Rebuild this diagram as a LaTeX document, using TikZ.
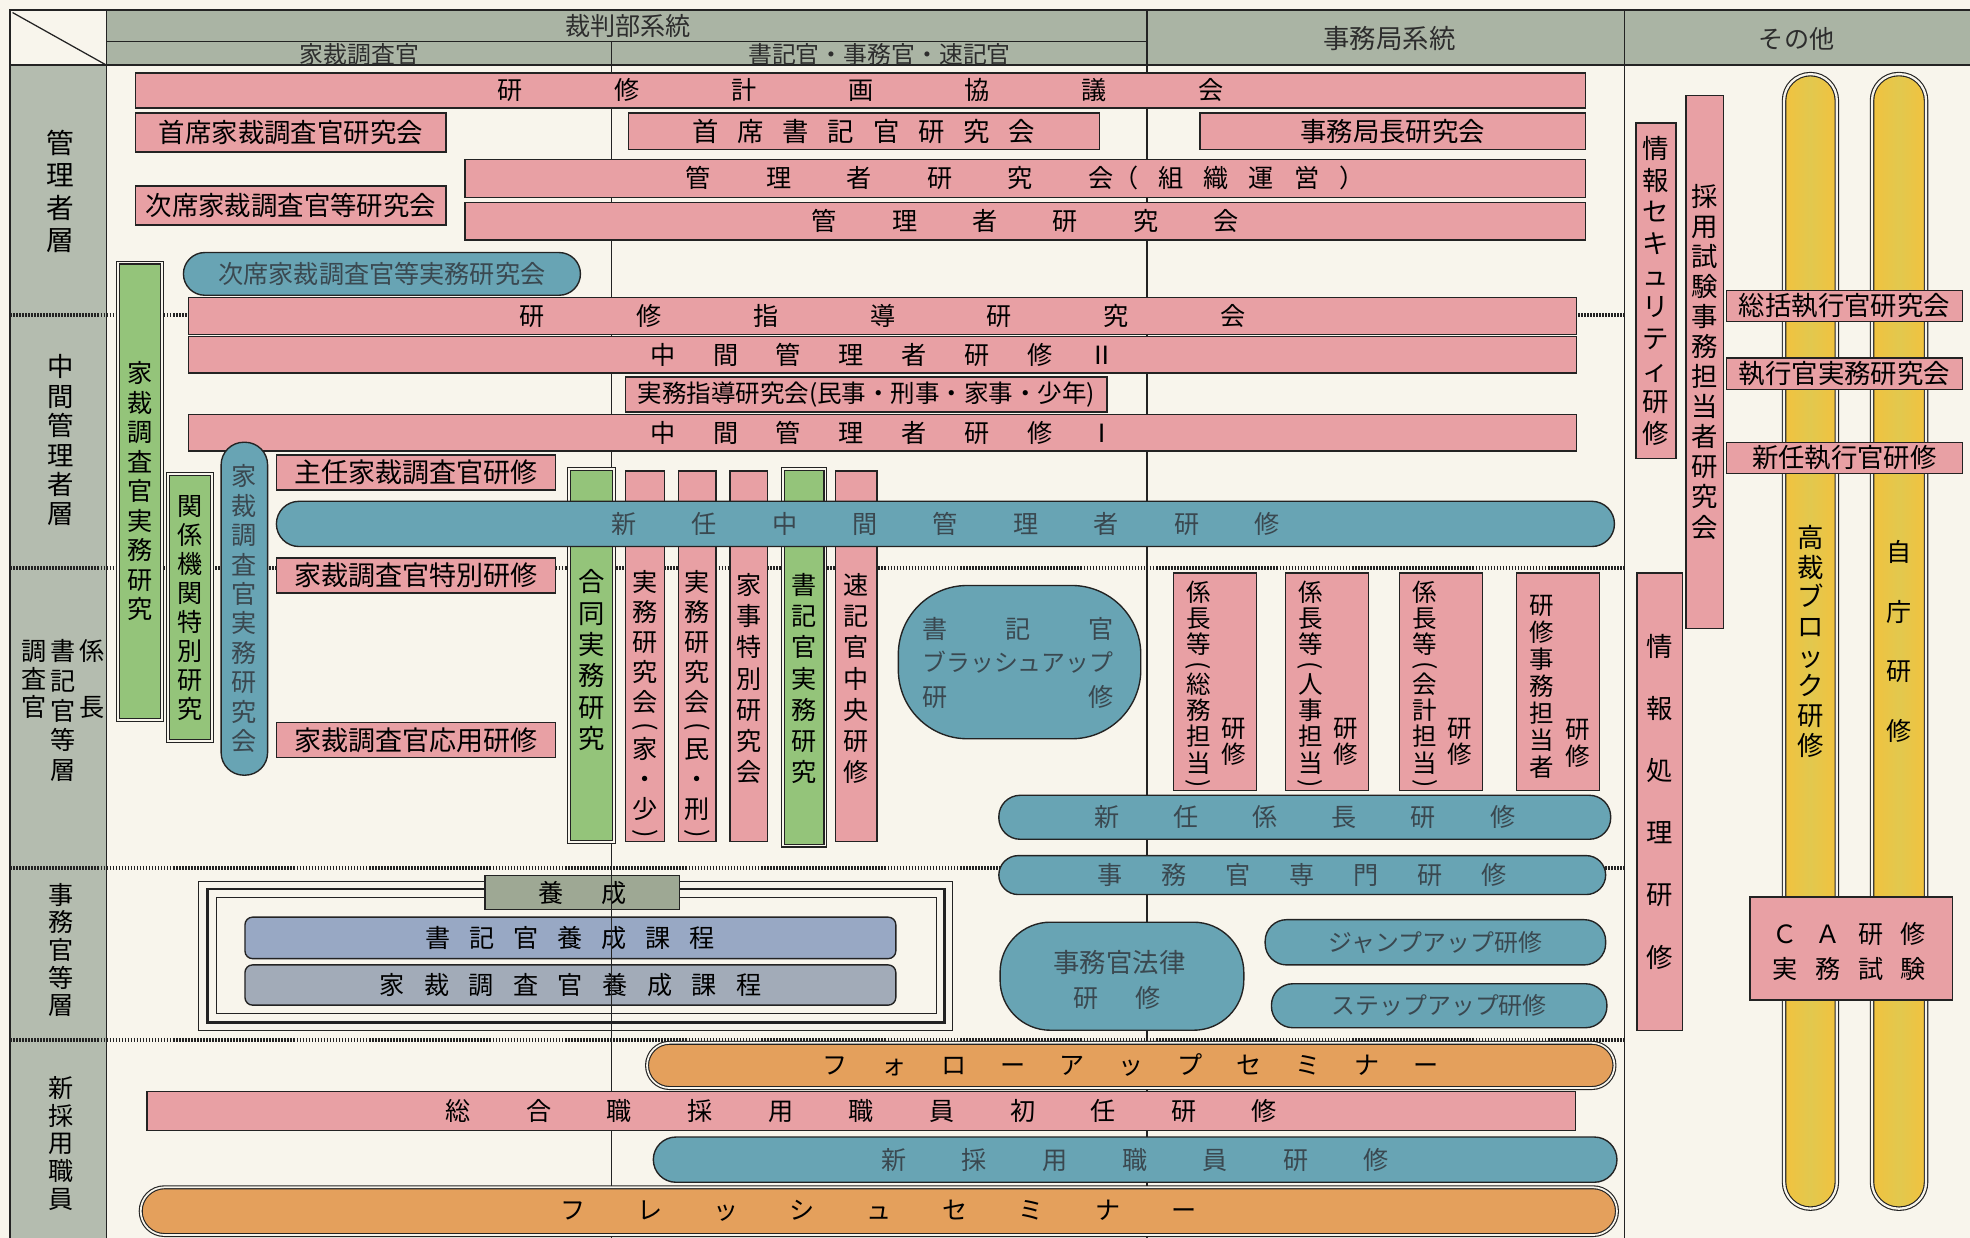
\documentclass[tikz,border=0pt]{standalone}
\usepackage{fontspec}
\setmainfont{Noto Sans CJK JP}
\usepackage{graphicx}
\makeatletter
\newcommand\FS[1]{\fontsize{#1}{#1}\selectfont}
\def\sp@loop#1#2{#1\ifx\relax#2\expandafter\@gobble\else\hskip\sp@gap\relax\expandafter\@firstofone\fi{\sp@loop{#2}}}
\newcommand\hsp[2]{\begingroup\def\sp@gap{#1}\sp@loop#2\relax\endgroup}
\def\vt@h{.88em}\def\vt@d{.12em}
\def\vt@loop#1#2{\hbox to 1em{\def\vt@h{.88em}\def\vt@d{.12em}\hss#1\hss\vrule height\vt@h depth\vt@d width\z@}\ifx\relax#2\expandafter\@gobble\else\vskip\vt@gap\relax\expandafter\@firstofone\fi{\vt@loop{#2}}}
\newcommand\vsp[2]{\vbox{\offinterlineskip\def\vt@gap{#1}\vt@loop#2\relax}}
\newcommand\vpo{\def\vt@h{.45em}\def\vt@d{\z@}\smash{\raisebox{-.13em}{\rotatebox[origin=c]{-90}{(}}}}
\newcommand\vpc{\def\vt@h{.45em}\def\vt@d{\z@}\smash{\raisebox{-.13em}{\rotatebox[origin=c]{-90}{)}}}}
\makeatother
\definecolor{bgc}{RGB}{248,245,236}
\definecolor{pinkc}{RGB}{232,160,164}
\definecolor{tealc}{RGB}{104,164,180}
\definecolor{greenc}{RGB}{148,196,122}
\definecolor{orangec}{RGB}{228,160,92}
\definecolor{yellowc}{RGB}{242,194,62}
\definecolor{yellowm}{RGB}{226,200,78}
\definecolor{bluec}{RGB}{152,168,196}
\definecolor{bluecb}{RGB}{162,171,184}
\definecolor{headc}{RGB}{170,180,164}
\definecolor{leftc}{RGB}{180,188,175}
\definecolor{yoseic}{RGB}{158,168,148}
\definecolor{tealtxt}{RGB}{58,72,80}
\definecolor{htxtc}{RGB}{45,45,45}
\definecolor{linec}{RGB}{35,35,35}
\newcommand\bx[7]{\node[#1, minimum width={#5-#3}, minimum height={#6-#4}] (#2) at ({(#3+#5)/2},{(#4+#6)/2}) {#7};}
\begin{document}
\begin{tikzpicture}[x=1pt,y=-1pt,
  base/.style={draw=linec, line width=1.1pt, inner sep=0pt, outer sep=0pt, text=black, font=\FS{20}},
  pinkbox/.style={base, fill=pinkc},
  tealpill/.style={base, fill=tealc, text=tealtxt, rounded corners=#1},
  tealpill/.default=17pt,
  greenbox/.style={base, fill=greenc, double=bgc, double distance=1.4pt, line width=0.9pt},
  orangepill/.style={base, fill=orangec, double=bgc, double distance=1.4pt, line width=0.9pt, rounded corners=#1},
  orangepill/.default=18pt,
  tube/.style={base, double=bgc, double distance=1.8pt, line width=0.9pt, rounded corners=21pt, left color=yellowc, right color=yellowc, middle color=yellowm},
  coursebox/.style={base, fill=#1, rounded corners=6pt},
  yoseibox/.style={base, fill=yoseic},
  txt/.style={inner sep=0pt, font=\FS{20}, text=black},
  ttxt/.style={txt, text=tealtxt},
  htxt/.style={txt, text=htxtc},
  dotline/.style={line width=3pt, dash pattern=on 1.3pt off 1.1pt, draw=linec},
  gridline/.style={line width=1pt, draw=linec},
]
\useasboundingbox (0,0) rectangle (1568,985);
\fill[bgc] (0,0) rectangle (1568,985);
% header and left column
\fill[headc] (85,8) rectangle (1575,52);
\fill[leftc] (8,52) rectangle (85,990);
\draw[gridline, line width=1.4pt] (8,990) -- (8,8) -- (1575,8);
\draw[gridline, line width=1.4pt] (8,52) -- (1575,52);
\draw[gridline] (85,8) -- (85,990);
\draw[gridline] (85,33) -- (913,33);
\draw[gridline] (487,33) -- (487,990);
\draw[gridline] (913,8) -- (913,990);
\draw[gridline] (1293,8) -- (1293,990);
\draw[gridline] (10,10) -- (85,52);
\node[htxt] (h-saiban) at (500,21) {裁判部系統};
\node[htxt,font=\FS{19}] (h-kasai) at (286,43) {家裁調査官};
\node[htxt,font=\FS{19}] (h-shoki) at (700,43) {書記官・事務官・速記官};
\node[htxt,font=\FS{21}] (h-jimu) at (1106,31) {事務局系統};
\node[htxt] (h-other) at (1430,31) {その他};
% dotted layer separators
\foreach \yy in {251,452,691,828} \draw[dotline] (8,\yy) -- (1293,\yy);
% layer labels
\node[txt,font=\FS{22}] (l-kanri) at (48,152.5) {\vsp{3.7pt}{管理者層}};
\node[txt,font=\FS{21}] (l-chukan) at (48,350.5) {\vsp{2.4pt}{中間管理者層}};
\node[txt] (l-kakari) at (73,540.5) {\vsp{25pt}{係長}};
\node[txt] (l-shoki) at (50,565.5) {\vsp{3.75pt}{書記官等層}};
\node[txt] (l-chosa) at (27,540.5) {\vsp{2.5pt}{調査官}};
\node[txt] (l-jimukan) at (49,756) {\vsp{2pt}{事務官等層}};
\node[txt] (l-shinsai) at (49,910) {\vsp{2pt}{新採用職員}};
% management layer
\bx{pinkbox}{kyogi}{108}{58}{1262}{86}{\hsp{73pt}{研修計画協議会}}
\bx{pinkbox,font=\FS{21}}{shuseki-kasai}{108}{90}{355}{121}{首席家裁調査官研究会}
\bx{pinkbox,font=\FS{21}}{shuseki-shoki}{500}{90}{875}{119}{\hsp{15pt}{首席書記官研究会}}
\bx{pinkbox,font=\FS{21}}{jimukyokucho}{955}{90}{1262}{119}{事務局長研究会}
\bx{pinkbox}{kanri-soshiki}{370}{127}{1262}{157}{\hsp{44pt}{管理者研究会}\hsp{16pt}{（組織運営）}}
\bx{pinkbox,font=\FS{21}}{jiseki}{108}{148}{355}{179}{次席家裁調査官等研究会}
\bx{pinkbox}{kanri}{370}{161}{1262}{191}{\hsp{44pt}{管理者研究会}}
\bx{tealpill=17pt}{jiseki-jitsumu}{146}{201}{462}{235}{次席家裁調査官等実務研究会}
% middle management
\bx{pinkbox}{shido}{150}{237}{1255}{266}{\hsp{73pt}{研修指導研究会}}
\bx{pinkbox}{chukan2}{150}{268}{1255}{297}{\hsp{30pt}{中間管理者研修Ⅱ}}
\bx{pinkbox,font=\FS{19.5}}{jitsumushido}{498}{300}{881}{328}{実務指導研究会(民事・刑事・家事・少年)}
\bx{pinkbox}{chukan1}{150}{330}{1255}{359}{\hsp{30pt}{中間管理者研修Ⅰ}}
\bx{pinkbox,font=\FS{21.5}}{shunin}{220}{362}{442}{390}{主任家裁調査官研修}
\bx{pinkbox,font=\FS{21.5}}{tokubetsu}{220}{444}{442}{472}{家裁調査官特別研修}
\bx{pinkbox,font=\FS{21.5}}{oyo}{220}{575}{442}{603}{家裁調査官応用研修}
\bx{greenbox}{kasai-jitsumu}{94}{209}{129}{573}{\vsp{3.5pt}{家裁調査官実務研究}}
\bx{greenbox}{kankei}{134}{377}{169}{590}{\vsp{3pt}{関係機関特別研究}}
\bx{tealpill=18pt}{kasai-kenkyukai}{176}{352}{213}{617}{\vsp{3.4pt}{家裁調査官実務研究会}}
% vertical column of research groups
\bx{greenbox}{godo}{453}{373}{489}{670}{}
\node[txt,font=\FS{21}] (godo-t) at (471,525.5) {\vsp{4pt}{合同実務研究}};
\bx{pinkbox}{jitsumu-ka}{498}{375}{529}{670}{}
\node[txt] (jitsumu-ka-t) at (513.5,560) {\vsp{4pt}{実務研究会{\vpo}家・少{\vpc}}};
\bx{pinkbox}{jitsumu-min}{540}{375}{570}{670}{}
\node[txt] (jitsumu-min-t) at (555,560) {\vsp{4pt}{実務研究会{\vpo}民・刑{\vpc}}};
\bx{pinkbox}{kaji}{581}{375}{611}{670}{}
\node[txt] (kaji-t) at (596,540) {\vsp{4.7pt}{家事特別研究会}};
\bx{greenbox}{shoki-jitsumu}{623}{373}{657}{673}{}
\node[txt] (shoki-jitsumu-t) at (640,540) {\vsp{4.7pt}{書記官実務研究}};
\bx{pinkbox}{sokki}{665}{375}{698}{670}{}
\node[txt] (sokki-t) at (681.5,540) {\vsp{4.7pt}{速記官中央研修}};
\bx{tealpill=18pt}{shinnin-chukan}{220}{399}{1285}{435}{\hsp{44pt}{新任中間管理者研修}}
% clerk brush-up
\bx{tealpill=55pt}{brush}{715}{466}{908}{588}{}
\node[ttxt] (brush1) at (810,501) {\hsp{46pt}{書記官}};
\node[ttxt,font=\FS{19}] (brush2) at (810,527) {ブラッシュアップ};
\node[ttxt] (brush3) at (810,555) {\hsp{112pt}{研修}};
% chief boxes
\bx{pinkbox}{kakari-somu}{934}{456}{1000}{629}{}
\node[txt,font=\FS{19.5},anchor=north] (kakari-somu-t) at (954,461) {\vsp{1.5pt}{係長等{\vpo}総務担当{\vpc}}};
\node[txt,font=\FS{19.5}] (kakari-somu-k) at (982,590) {\vsp{1.5pt}{研修}};
\bx{pinkbox}{kakari-jinji}{1023}{456}{1089}{629}{}
\node[txt,font=\FS{19.5},anchor=north] (kakari-jinji-t) at (1043,461) {\vsp{1.5pt}{係長等{\vpo}人事担当{\vpc}}};
\node[txt,font=\FS{19.5}] (kakari-jinji-k) at (1071,590) {\vsp{1.5pt}{研修}};
\bx{pinkbox}{kakari-kaikei}{1114}{456}{1180}{629}{}
\node[txt,font=\FS{19.5},anchor=north] (kakari-kaikei-t) at (1134,461) {\vsp{1.5pt}{係長等{\vpo}会計担当{\vpc}}};
\node[txt,font=\FS{19.5}] (kakari-kaikei-k) at (1162,590) {\vsp{1.5pt}{研修}};
\bx{pinkbox}{kenshu-jimu}{1207}{456}{1273}{629}{}
\node[txt,font=\FS{19.5}] (kenshu-jimu-t) at (1227,546.5) {\vsp{2pt}{研修事務担当者}};
\node[txt,font=\FS{19.5}] (kenshu-jimu-k) at (1256,591) {\vsp{1.5pt}{研修}};
\bx{tealpill=17pt}{shinnin-kakari}{795}{633}{1282}{668}{\hsp{43pt}{新任係長研修}}
\bx{tealpill=15.5pt}{jimukan-senmon}{795}{681}{1278}{712}{\hsp{31pt}{事務官専門研修}}
% training courses
\draw[line width=0.8pt, draw=linec] (158,702) rectangle (758,820);
\draw[line width=2.2pt, draw=linec] (165,707.5) rectangle (752,814);
\draw[line width=0.8pt, draw=linec] (172,714) rectangle (745,807);
\bx{coursebox=bluec}{shoki-yosei}{195}{730}{713}{763}{\hsp{15pt}{書記官養成課程}}
\bx{coursebox=bluecb}{kasai-yosei}{195}{768}{713}{800}{\hsp{15.5pt}{家裁調査官養成課程}}
\bx{yoseibox}{yosei}{386}{697}{541}{724}{\hsp{30pt}{養成}}
\draw[gridline] (487,697) -- (487,822);
\bx{tealpill=40pt,font=\FS{21}}{horitsu}{796}{734}{990}{820}{}
\node[ttxt,font=\FS{21}] (horitsu1) at (891,766) {事務官法律};
\node[ttxt] (horitsu2) at (889,794) {\hsp{29pt}{研修}};
\bx{tealpill=17pt,font=\FS{19}}{jump}{1007}{732}{1278}{768}{ジャンプアップ研修}
\bx{tealpill=17pt,font=\FS{19}}{step}{1012}{783}{1279}{818}{ステップアップ研修}
% new recruits
\bx{orangepill=18pt}{follow}{515}{830}{1285}{866}{\hsp{27pt}{フォローアップセミナー}}
\bx{pinkbox}{sogo}{117}{869}{1254}{900}{\hsp{44.2pt}{総合職採用職員初任研修}}
\bx{tealpill=18pt}{shinsai}{520}{905}{1287}{941}{\hsp{44pt}{新採用職員研修}}
\bx{orangepill=19pt}{fresh}{112}{945}{1287}{983}{\hsp{40.75pt}{フレッシュセミナー}}
% other column
\bx{pinkbox,font=\FS{21}}{security}{1302}{98}{1334}{365}{\vsp{4.2pt}{情報セキュリティ研修}}
\bx{pinkbox,font=\FS{21}}{saiyo}{1342}{76}{1372}{500}{\vsp{2.9pt}{採用試験事務担当者研究会}}
\bx{pinkbox,font=\FS{21}}{joho}{1303}{456}{1339}{820}{\vsp{28.5pt}{情報処理研修}}
\bx{tube,font=\FS{21}}{tube-l}{1420}{59}{1462}{962}{\vsp{2.6pt}{高裁ブロック研修}}
\bx{tube}{tube-r}{1490}{59}{1533}{962}{\vsp{27.3pt}{自庁研修}}
\bx{pinkbox,font=\FS{21}}{sokatsu}{1374}{231}{1562}{256}{総括執行官研究会}
\bx{pinkbox,font=\FS{21}}{shikko}{1374}{285}{1562}{310}{執行官実務研究会}
\bx{pinkbox,font=\FS{21}}{shinnin-shikko}{1374}{352}{1562}{377}{新任執行官研修}
\bx{pinkbox}{ca}{1393}{714}{1554}{796}{}
\node[txt] (ca1) at (1472,743) {\hsp{14pt}{ＣＡ研修}};
\node[txt] (ca2) at (1472,771) {\hsp{14pt}{実務試験}};
\end{tikzpicture}
\end{document}
